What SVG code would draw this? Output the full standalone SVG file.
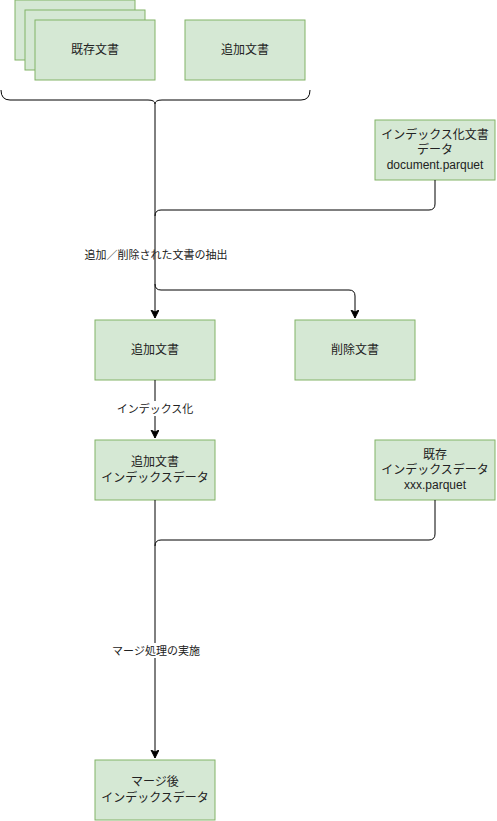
<svg xmlns="http://www.w3.org/2000/svg" width="497" height="821" viewBox="0 0 497 821">
<style>
.box{fill:#d5e8d4;stroke:#82b366;stroke-width:1}
.t{font-family:"Liberation Sans","Noto Sans CJK JP",sans-serif;font-size:12px;fill:#222;text-anchor:middle}
.lbl{font-family:"Liberation Sans","Noto Sans CJK JP",sans-serif;font-size:11px;fill:#222;text-anchor:middle}
.ln{fill:none;stroke:#000;stroke-width:1}
</style>
<defs>
<marker id="arr" markerUnits="userSpaceOnUse" markerWidth="10" markerHeight="10" refX="8" refY="4" orient="auto">
<path d="M0,0 L8,4 L0,8 L2,4 z" fill="#000" stroke="#000" stroke-width="1"/>
</marker>
</defs>
<g id="existing-docs">
<rect class="box" x="15" y="0" width="120" height="60"/>
<rect class="box" x="25" y="10" width="120" height="60"/>
<rect class="box" x="35" y="20" width="120" height="60"/>
<text class="t" x="95" y="54">既存文書</text>
</g>
<g id="added-docs-top">
<rect class="box" x="185" y="20" width="120" height="60"/>
<text class="t" x="245" y="54">追加文書</text>
</g>
<g id="brace">
<path class="ln" d="M1,90 Q1,100 10,100 L148,100 Q155,100 155,104 Q155,100 162,100 L301,100 Q310,100 310,90"/>
</g>
<g id="indexed-doc-data">
<rect class="box" x="375" y="120" width="120" height="60"/>
<text class="t" x="435" y="139">インデックス化文書</text>
<text class="t" x="435" y="154">データ</text>
<text class="t" x="435" y="169">document.parquet</text>
</g>
<g id="added-docs">
<rect class="box" x="95" y="320" width="120" height="60"/>
<text class="t" x="155" y="354">追加文書</text>
</g>
<g id="deleted-docs">
<rect class="box" x="295" y="320" width="120" height="60"/>
<text class="t" x="355" y="354">削除文書</text>
</g>
<g id="added-index-data">
<rect class="box" x="95" y="440" width="120" height="60"/>
<text class="t" x="155" y="466">追加文書</text>
<text class="t" x="155" y="482">インデックスデータ</text>
</g>
<g id="existing-index-data">
<rect class="box" x="375" y="440" width="120" height="60"/>
<text class="t" x="435" y="459">既存</text>
<text class="t" x="435" y="474">インデックスデータ</text>
<text class="t" x="435" y="489">xxx.parquet</text>
</g>
<g id="merged-index-data">
<rect class="box" x="95" y="760" width="120" height="60"/>
<text class="t" x="155" y="786">マージ後</text>
<text class="t" x="155" y="802">インデックスデータ</text>
</g>
<g id="connectors">
<path class="ln" d="M155,104 L155,318" marker-end="url(#arr)"/>
<path class="ln" d="M435,180 L435,204 Q435,210 429,210 L161,210 Q155,210 155,216"/>
<path class="ln" d="M155,284 Q155,290 161,290 L349,290 Q355,290 355,296 L355,318" marker-end="url(#arr)"/>
<text class="lbl" x="156" y="259">追加／削除された文書の抽出</text>
<path class="ln" d="M155,380 L155,438" marker-end="url(#arr)"/>
<rect x="118" y="401" width="74" height="15" fill="#fff"/>
<text class="lbl" x="155" y="413">インデックス化</text>
<path class="ln" d="M155,500 L155,758" marker-end="url(#arr)"/>
<path class="ln" d="M435,500 L435,534 Q435,540 429,540 L161,540 Q155,540 155,546"/>
<rect x="110" y="643" width="92" height="15" fill="#fff"/>
<text class="lbl" x="156" y="655">マージ処理の実施</text>
</g>
</svg>
